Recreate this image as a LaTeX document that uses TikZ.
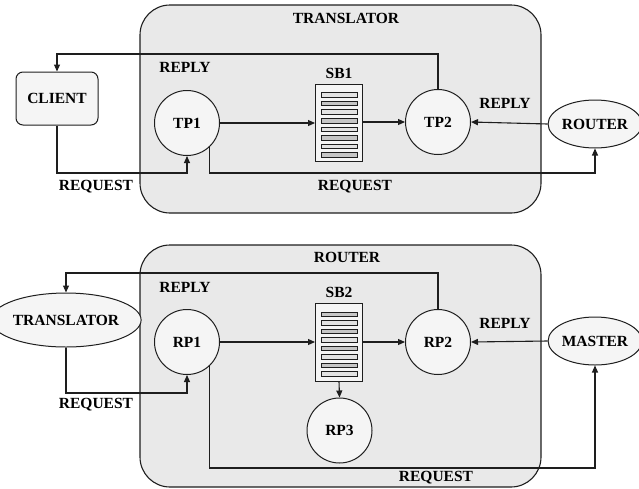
\documentclass[tikz,border=0pt]{standalone}
\usepackage{fontspec}
\setmainfont{Liberation Serif}
\usetikzlibrary{arrows.meta,shapes.geometric,calc}
\definecolor{panelfill}{HTML}{E9E9E9}
\definecolor{nodefill}{HTML}{F5F5F5}
\definecolor{linec}{HTML}{1E1E1E}
\tikzset{
  every node/.style={font=\fontsize{15.5}{18}\selectfont\bfseries},
  panel/.style={draw=linec, line width=1.1pt, fill=panelfill, rounded corners=30pt},
  proc/.style={circle, draw=linec, line width=1pt, fill=nodefill, minimum size=65pt, inner sep=0pt},
  ext/.style={ellipse, draw=linec, line width=1pt, fill=nodefill, minimum width=92pt, minimum height=48pt, inner sep=0pt},
  client/.style={rectangle, rounded corners=7pt, draw=linec, line width=1pt, fill=nodefill, minimum width=82pt, minimum height=53pt, inner sep=0pt},
  sbox/.style={rectangle, draw=linec, line width=1pt, fill=nodefill, minimum width=47pt, minimum height=77pt, inner sep=0pt},
  bar/.style={draw=linec, line width=0.8pt},
  arr/.style={draw=linec, line width=1.1pt, -{Triangle[length=7pt,width=6pt]}},
  lbl/.style={inner sep=0pt}
}
\begin{document}
\begin{tikzpicture}[x=1pt,y=-1pt]
\useasboundingbox (0,0) rectangle (639,488);
% ---------- top panel ----------
\draw[panel] (140,5) rectangle (541,213);
\node[lbl] (t1) at (346,18) {TRANSLATOR};
\node[client] (CLIENT) at (57,98.5) {CLIENT};
\node[proc] (TP1) at (187,123) {TP1};
\node[proc] (TP2) at (438,122) {TP2};
\node[sbox] (SB1) at (339,122.5) {};
\node[lbl] (sb1l) at (339,73) {SB1};
\foreach \i in {0,...,7}{
  \pgfmathsetmacro{\yy}{95+\i*8.57}
  \ifodd\i \def\bf{gray!45}\else\def\bf{gray!22}\fi
  \draw[bar, fill=\bf] (321,\yy-2.3) rectangle (357,\yy+2.3);
}
\node[ext] (ROUTER) at (595,124) {ROUTER};
\node[lbl] (r1) at (185,67) {REPLY};
\node[lbl] (r2) at (505,103) {REPLY};
\node[lbl] (q1) at (96,187) {REQUEST};
\node[lbl] (q2) at (355,187) {REQUEST};
\draw[arr] (TP2.north) |- (CLIENT.north |- 0,54) -- (CLIENT.north);
\draw[arr] (CLIENT.south) |- (TP1.south |- 0,173) -- (TP1.south);
\draw[arr] (TP1.east) -- (SB1.west |- TP1.east);
\draw[arr] (SB1.east |- TP2.west) -- (TP2.west);
\draw[arr] (ROUTER.west) -- (TP2.east);
\draw[arr] (TP1.-47) |- (ROUTER.south |- 0,173) -- (ROUTER.south);
% ---------- bottom panel ----------
\draw[panel] (140,245) rectangle (541,487);
\node[lbl] (t2) at (347,257) {ROUTER};
\node[ext, minimum width=124pt, minimum height=54pt] (TRANS) at (66,320) {TRANSLATOR};
\node[proc] (RP1) at (187,342) {RP1};
\node[proc] (RP2) at (438,342) {RP2};
\node[proc] (RP3) at (339.5,430.5) {RP3};
\node[sbox, minimum height=78pt] (SB2) at (339,342) {};
\node[lbl] (sb2l) at (339,292) {SB2};
\foreach \i in {0,...,7}{
  \pgfmathsetmacro{\yy}{314.5+\i*8.5}
  \ifodd\i \def\bf{gray!22}\else\def\bf{gray!45}\fi
  \draw[bar, fill=\bf] (321,\yy-2.3) rectangle (357,\yy+2.3);
}
\node[ext] (MASTER) at (595,341) {MASTER};
\node[lbl] (r3) at (185,287) {REPLY};
\node[lbl] (r4) at (505,323) {REPLY};
\node[lbl] (q3) at (96,405) {REQUEST};
\node[lbl] (q4) at (436,478) {REQUEST};
\draw[arr] (RP2.north) |- (TRANS.north |- 0,273) -- (TRANS.north);
\draw[arr] (TRANS.south) |- (RP1.south |- 0,393) -- (RP1.south);
\draw[arr] (RP1.east) -- (SB2.west |- RP1.east);
\draw[arr] (SB2.east |- RP2.west) -- (RP2.west);
\draw[arr] (MASTER.west) -- (RP2.east);
\draw[arr] (SB2.south) -- (RP3.north);
\draw[arr] (RP1.-47) |- (MASTER.south |- 0,468) -- (MASTER.south);
\end{tikzpicture}
\end{document}
